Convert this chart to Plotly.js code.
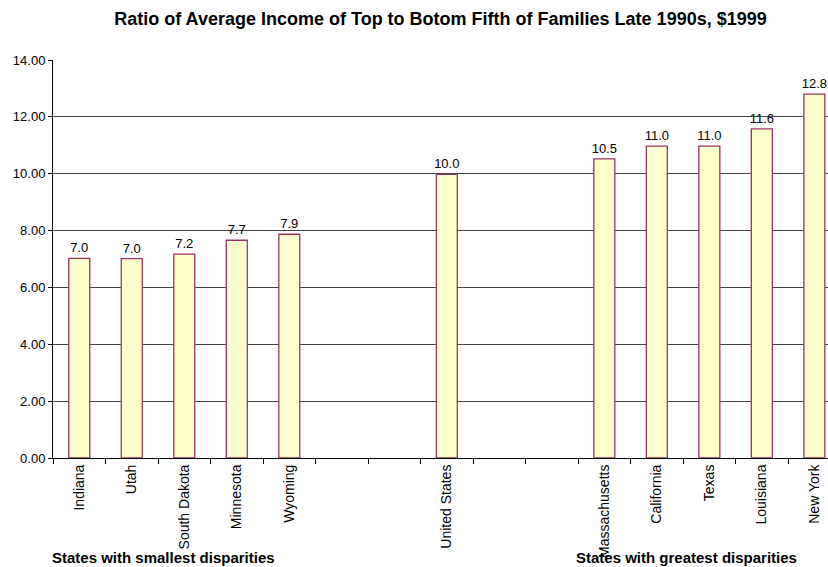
<!DOCTYPE html>
<html>
<head>
<meta charset="utf-8">
<script src="https://cdn.plot.ly/plotly-3.0.1.min.js"></script>
<style>html,body{margin:0;padding:0;background:#fff;}#chart{width:828px;height:567px;}</style>
</head>
<body>
<div id="chart"></div>
<script>
// Categories (blank slots separate the three groups)
const categories = ["Indiana", "Utah", "South Dakota", "Minnesota", "Wyoming", " ", "  ",
  "United States", "   ", "    ",
  "Massachusetts", "California", "Texas", "Louisiana", "New York"];
const ratios = [7.02, 7.01, 7.17, 7.66, 7.87, null, null,
  9.98, null, null,
  10.52, 10.97, 10.97, 11.58, 12.80];
const yTicks = [0, 2, 4, 6, 8, 10, 12, 14];
const groupLabels = ["States with smallest disparities", "States with greatest disparities"];
const chartTitle = "Ratio of Average Income of Top to Botom Fifth of Families Late 1990s, $1999";

const FONT = "Arial, Liberation Sans, sans-serif";

const trace = {
  type: "bar",
  x: categories,
  y: ratios,
  marker: { color: "#FFFFCC", line: { color: "#993366", width: 1.3 } },
  texttemplate: "%{y:.1f}",
  textposition: "outside",
  constraintext: "none",
  textfont: { family: FONT, size: 13, color: "#000" },
  cliponaxis: false,
  hoverinfo: "x+y"
};

const layout = {
  width: 828, height: 567,
  margin: { l: 53, r: 0, t: 60, b: 109 },
  paper_bgcolor: "#fff", plot_bgcolor: "#fff",
  bargap: 0.6,
  showlegend: false,
  title: {
    text: "<b>" + chartTitle + "</b>",
    font: { family: FONT, size: 18, color: "#000" },
    x: 0.5, xref: "paper", xanchor: "center",
    y: 1 - 19 / 567, yref: "container", yanchor: "middle"
  },
  xaxis: {
    type: "category",
    categoryorder: "array", categoryarray: categories,
    range: [-0.5, 14.26],
    tickson: "boundaries",
    ticks: "outside", ticklen: 5, tickcolor: "#000", tickwidth: 1,
    tickangle: -90,
    tickfont: { family: FONT, size: 14, color: "#000" },
    showline: true, linecolor: "#000", linewidth: 1,
    showgrid: false, zeroline: false,
    fixedrange: true
  },
  yaxis: {
    range: [0, 14],
    tickvals: yTicks,
    tickformat: ".2f",
    ticks: "outside", ticklen: 4, tickcolor: "#000",
    tickfont: { family: FONT, size: 13, color: "#000" },
    showline: true, linecolor: "#000", linewidth: 1,
    showgrid: true, gridcolor: "#444", gridwidth: 1,
    zeroline: false,
    fixedrange: true
  },
  annotations: [
    { text: "<b>" + groupLabels[0] + "</b>", xref: "paper", yref: "paper",
      x: 0.142, y: 0, xanchor: "center", yanchor: "middle", yshift: -99,
      showarrow: false, font: { family: FONT, size: 15, color: "#000" } },
    { text: "<b>" + groupLabels[1] + "</b>", xref: "paper", yref: "paper",
      x: 0.817, y: 0, xanchor: "center", yanchor: "middle", yshift: -99,
      showarrow: false, font: { family: FONT, size: 15, color: "#000" } }
  ]
};

Plotly.newPlot("chart", [trace], layout, { displayModeBar: false, staticPlot: true });
</script>
</body>
</html>
